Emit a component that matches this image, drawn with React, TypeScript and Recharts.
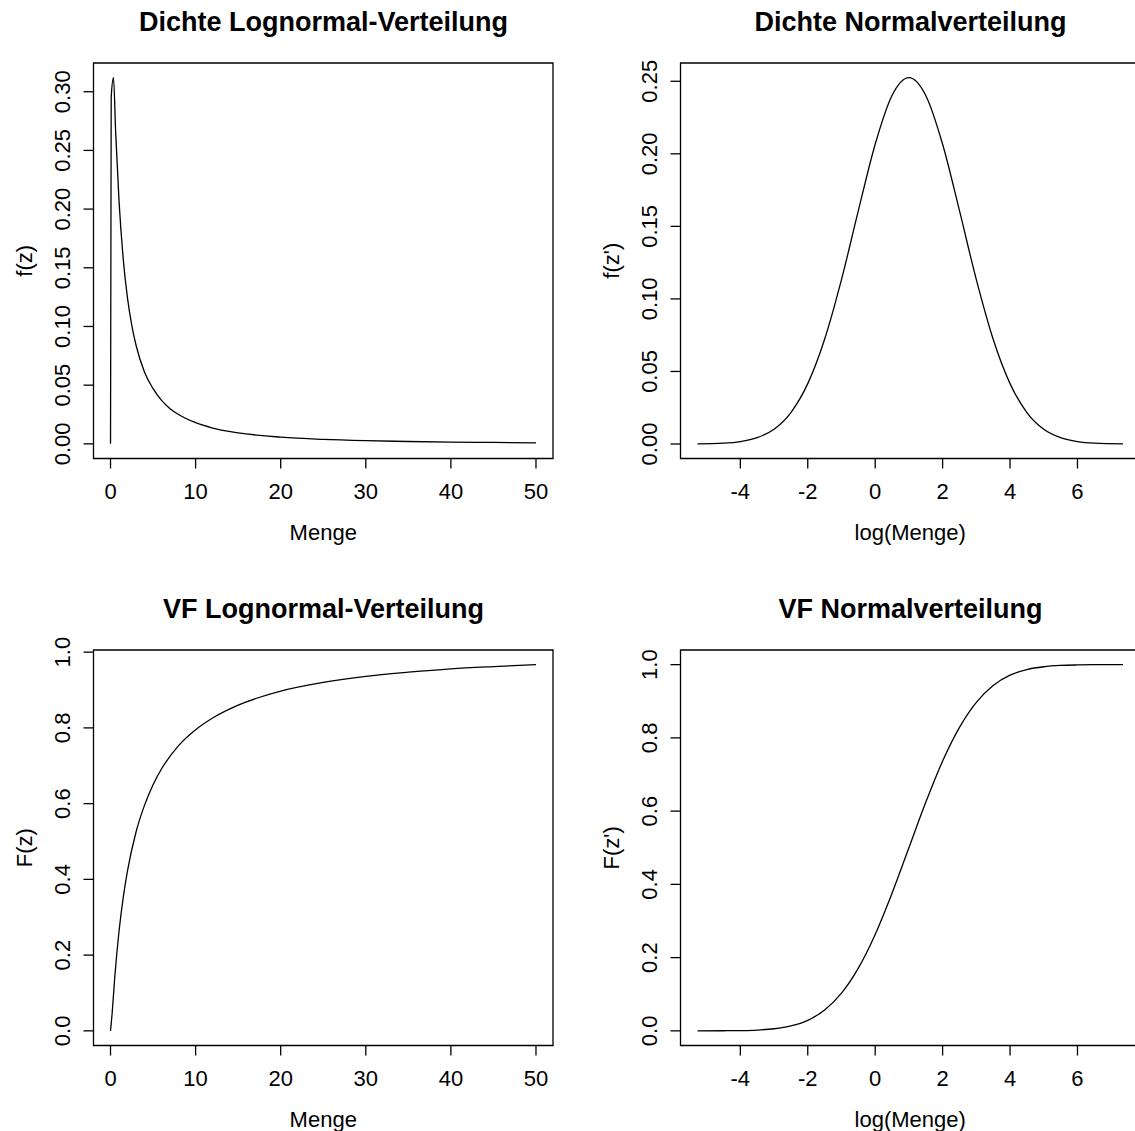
import { LineChart, Line, XAxis, YAxis, ReferenceArea } from 'recharts'

const FONT = '"Liberation Sans", Arial, Helvetica, sans-serif'

// Menge (lognormal scale)
const mengeX = [0, 0.08, 0.35, 0.6, 1, 1.5, 2, 2.5, 3, 4, 5, 6, 7, 8, 10, 12, 15, 20, 25, 30, 35, 40, 45, 50]
const mengeDensity = [0, 0.295, 0.312, 0.266, 0.207, 0.157, 0.124, 0.101, 0.084, 0.061, 0.047, 0.037, 0.030, 0.025, 0.018, 0.0135, 0.0094, 0.0057, 0.0038, 0.0027, 0.002, 0.0015, 0.0012, 0.0009]

const mengeCdfX = [0, 0.2, 0.5, 1, 1.5, 2, 3, 4, 5, 6, 8, 10, 12, 15, 20, 25, 30, 35, 40, 45, 50]
const mengeCdf = [0, 0.049, 0.142, 0.263, 0.353, 0.423, 0.525, 0.596, 0.650, 0.692, 0.753, 0.795, 0.826, 0.860, 0.897, 0.920, 0.936, 0.947, 0.956, 0.962, 0.967]

// log(Menge) (normal scale)
const logX = [-5.27, -4.5, -4, -3.5, -3, -2.5, -2, -1.5, -1, -0.5, 0, 0.5, 1, 1.5, 2, 2.5, 3, 3.5, 4, 4.5, 5, 5.5, 6, 6.5, 7.35]
const logDensity = [0.0001, 0.0006, 0.0017, 0.0044, 0.0102, 0.0217, 0.0416, 0.0722, 0.1133, 0.1608, 0.2066, 0.2402, 0.2525, 0.2402, 0.2066, 0.1608, 0.1133, 0.0722, 0.0416, 0.0217, 0.0102, 0.0044, 0.0017, 0.0006, 0.0001]
const logCdf = [0, 0.0003, 0.0008, 0.0022, 0.0057, 0.0134, 0.0288, 0.0568, 0.1028, 0.1713, 0.2634, 0.376, 0.5, 0.624, 0.7366, 0.8287, 0.8972, 0.9432, 0.9712, 0.9866, 0.9943, 0.9978, 0.9992, 0.9998, 1]

const mengeTicks = [0, 10, 20, 30, 40, 50]
const logTicks = [-4, -2, 0, 2, 4, 6]
const densTicksLog = [0, 0.05, 0.1, 0.15, 0.2, 0.25, 0.3]
const densTicksNorm = [0, 0.05, 0.1, 0.15, 0.2, 0.25]
const cdfTicks = [0, 0.2, 0.4, 0.6, 0.8, 1]

const zip = (xs: number[], ys: number[]) => xs.map((x, i) => ({ x, y: ys[i] }))

// R style axis range: data range widened by 4%
const rRange = (v: number[]): [number, number] => {
  const lo = Math.min(...v), hi = Math.max(...v)
  const pad = (hi - lo) * 0.04
  return [lo - pad, hi + pad]
}

const SIZE = 587

type PanelProps = {
  left: number
  top: number
  title: string
  xLabel: string
  yLabel: string
  xs: number[]
  ys: number[]
  xTicks: number[]
  yTicks: number[]
  digits: number
}

function Panel({ left, top, title, xLabel, yLabel, xs, ys, xTicks, yTicks, digits }: PanelProps) {
  const data = zip(xs, ys)
  const xDom = rRange(xs)
  const yDom = rRange(ys)
  const txt = { fontFamily: FONT, fontSize: 22, fill: '#000' }

  return (
    <div style={{ position: 'absolute', left, top, width: SIZE, height: SIZE }}>
      <div style={{
        position: 'absolute', left: 94, top: 9, width: 459, textAlign: 'center',
        fontFamily: FONT, fontWeight: 'bold', fontSize: 27, lineHeight: '27px', color: '#000', whiteSpace: 'nowrap',
      }}>
        {title}
      </div>
      <LineChart width={SIZE} height={SIZE} data={data} margin={{ top: 63, right: 34, bottom: 0, left: 0 }}>
        <XAxis
          dataKey="x" type="number" domain={xDom} ticks={xTicks} interval={0} allowDataOverflow
          height={128.5} axisLine={false} tickSize={10} tickMargin={0}
          tickLine={{ stroke: '#000', strokeWidth: 1.3 }}
          tick={(p: any) => (
            <text x={p.x} y={p.y + 23} textAnchor="middle" dominantBaseline="central" style={txt}>
              {p.payload.value}
            </text>
          )}
          label={{
            value: xLabel,
            content: (p: any) => {
              const vb = p.viewBox
              return (
                <text x={vb.x + vb.width / 2} y={vb.y + 74} textAnchor="middle" dominantBaseline="central" style={txt}>
                  {xLabel}
                </text>
              )
            },
          }}
        />
        <YAxis
          type="number" domain={yDom} ticks={yTicks} interval={0} allowDataOverflow
          width={93.5} axisLine={false} tickSize={10} tickMargin={0}
          tickLine={{ stroke: '#000', strokeWidth: 1.3 }}
          tick={(p: any) => (
            <text
              x={p.x - 20.5} y={p.y} textAnchor="middle" dominantBaseline="central" style={txt}
              transform={`rotate(-90, ${p.x - 20.5}, ${p.y})`}
            >
              {Number(p.payload.value).toFixed(digits)}
            </text>
          )}
          label={{
            value: yLabel,
            content: (p: any) => {
              const vb = p.viewBox
              const cx = vb.x + 24
              const cy = vb.y + vb.height / 2
              return (
                <text x={cx} y={cy} textAnchor="middle" dominantBaseline="central" style={txt}
                  transform={`rotate(-90, ${cx}, ${cy})`}>
                  {yLabel}
                </text>
              )
            },
          }}
        />
        <ReferenceArea x1={xDom[0]} x2={xDom[1]} y1={yDom[0]} y2={yDom[1]} fill="none" stroke="#000" strokeWidth={1.3} ifOverflow="visible" />
        <Line dataKey="y" type="monotone" stroke="#000" strokeWidth={1.3} dot={false} isAnimationActive={false} />
      </LineChart>
    </div>
  )
}

export default function App() {
  return (
    <div style={{ position: 'absolute', left: 0, top: 0, width: 1135, height: 1131, overflow: 'hidden', background: '#fff' }}>
      <Panel left={0} top={0} title="Dichte Lognormal-Verteilung" xLabel="Menge" yLabel="f(z)"
        xs={mengeX} ys={mengeDensity} xTicks={mengeTicks} yTicks={densTicksLog} digits={2} />
      <Panel left={SIZE} top={0} title="Dichte Normalverteilung" xLabel="log(Menge)" yLabel="f(z')"
        xs={logX} ys={logDensity} xTicks={logTicks} yTicks={densTicksNorm} digits={2} />
      <Panel left={0} top={SIZE} title="VF Lognormal-Verteilung" xLabel="Menge" yLabel="F(z)"
        xs={mengeCdfX} ys={mengeCdf} xTicks={mengeTicks} yTicks={cdfTicks} digits={1} />
      <Panel left={SIZE} top={SIZE} title="VF Normalverteilung" xLabel="log(Menge)" yLabel="F(z')"
        xs={logX} ys={logCdf} xTicks={logTicks} yTicks={cdfTicks} digits={1} />
    </div>
  )
}
